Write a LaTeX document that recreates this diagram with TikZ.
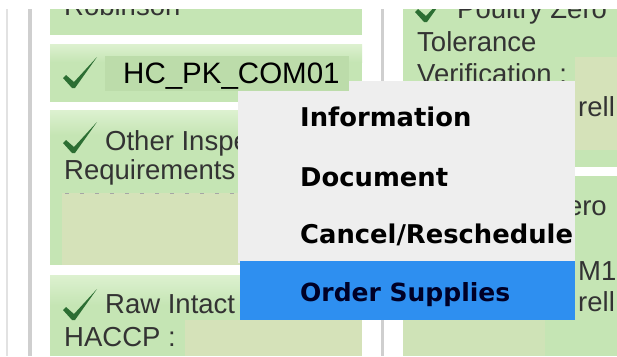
\documentclass[tikz,border=0pt]{standalone}
\usepackage{fontspec}
\setmainfont{Liberation Sans}
\newfontfamily\menufont{DejaVu Sans}
\definecolor{cellgreen}{HTML}{C5E5B4}
\definecolor{celllight}{HTML}{DDF1D0}
\definecolor{patchtan}{HTML}{D5E2B9}
\definecolor{labelgreen}{HTML}{BCDCAA}
\definecolor{rulegray}{HTML}{CFCFCF}
\definecolor{menugray}{HTML}{EEEEEE}
\definecolor{menublue}{HTML}{2E8FF0}
\definecolor{checkgreen}{HTML}{2C6E33}
\definecolor{celltext}{HTML}{333333}
\tikzset{
  celltxt/.style={anchor=base west,inner sep=0pt,font=\fontsize{27.5}{27.5}\selectfont,text=celltext},
  menutxt/.style={anchor=base west,inner sep=0pt,font=\menufont\bfseries\fontsize{25.8}{25.8}\selectfont,text=black},
  tick/.pic={\fill[checkgreen] (0,0) -- (3,-3) -- (11,4) -- (34,-21) -- (12,10) -- (9,10) -- cycle;}
}
\begin{document}
\begin{tikzpicture}[x=1pt,y=-1pt]
\useasboundingbox (0,0) rectangle (617,356);
\fill[white] (0,0) rectangle (617,356);
% rules
\fill[rulegray!60] (6,9) rectangle (8,356);
\fill[rulegray] (28,9) rectangle (32,356);
\fill[rulegray] (381,9) rectangle (384,356);
% cells
\fill[cellgreen] (50,9) rectangle (362,35);
\fill[cellgreen] (50,44) rectangle (362,102);
\shade[top color=celllight,bottom color=cellgreen] (50,44) rectangle (362,62);
\fill[cellgreen] (50,110) rectangle (362,265);
\shade[top color=celllight,bottom color=cellgreen] (50,110) rectangle (362,135);
\fill[patchtan] (62,193) rectangle (362,265);
\fill[cellgreen] (50,275) rectangle (362,356);
\shade[top color=celllight,bottom color=cellgreen] (50,275) rectangle (362,305);
\fill[patchtan] (185,320) rectangle (362,356);
\fill[cellgreen] (403,9) rectangle (617,167);
\fill[patchtan] (575,57) rectangle (617,150);
\fill[cellgreen] (403,176) rectangle (617,356);
\fill[patchtan!60!cellgreen] (403,320) rectangle (545,356);
\draw[black!35,line width=1pt,dash pattern=on 4pt off 11pt] (65,193) -- (236,193);
% cell text
\node[celltxt] (robinson) at (64,16) {Robinson};
\pic at (63,78) {tick};
\pic at (63,143) {tick};
\node[celltxt] (other) at (105,150) {Other Inspection};
\node[celltxt] (req) at (64,179) {Requirements};
\pic at (63,310) {tick};
\node[celltxt] (raw) at (105,313) {Raw Intact};
\node[celltxt] (haccp) at (64,346) {HACCP :};
\pic at (415,12) {tick};
\node[celltxt] (poultry) at (457,18) {Poultry Zero};
\node[celltxt] (tol) at (417,51) {Tolerance};
\node[celltxt] (ver) at (417,83) {Verification :};
\node[celltxt] (rell1) at (578,116) {rell};
\node[celltxt] (zero) at (550,215) {Zero};
\node[celltxt] (m1) at (578,280) {M1};
\node[celltxt] (rell2) at (578,311) {rell};
% menu
\fill[menugray] (238,81) rectangle (575,263);
\fill[menublue] (240,261) rectangle (575,320);
\node[menutxt] (info) at (300,126) {Information};
\node[menutxt] (doc) at (300,186) {Document};
\node[menutxt] (cancel) at (300,243) {Cancel/Reschedule};
\node[menutxt,text=black!85!blue,font=\menufont\bfseries\fontsize{25}{25}\selectfont] (order) at (300,301) {Order Supplies};
% selected label
\fill[labelgreen] (105,56) rectangle (349,91);
\node[anchor=base west,inner sep=0pt,font=\fontsize{29.5}{29.5}\selectfont] (hc) at (123,83) {HC\_PK\_COM01};
% top margin
\fill[white] (0,0) rectangle (617,9);
\end{tikzpicture}
\end{document}
